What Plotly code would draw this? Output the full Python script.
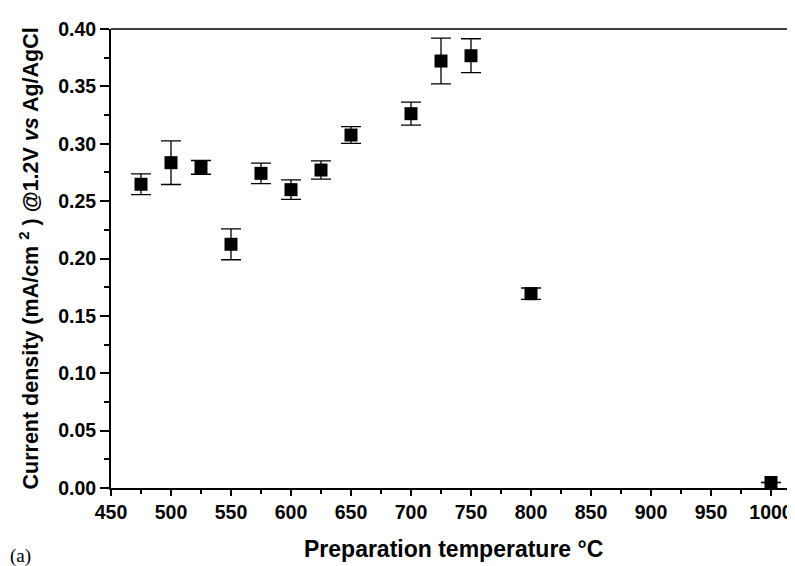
import plotly.graph_objects as go

temperature = [475, 500, 525, 550, 575, 600, 625, 650, 700, 725, 750, 800, 1000]
current_density = [0.2647, 0.2835, 0.2794, 0.2124, 0.2742, 0.2600, 0.2771, 0.3076,
                   0.3262, 0.3721, 0.3767, 0.1693, 0.0048]
error = [0.009, 0.019, 0.006, 0.0135, 0.009, 0.0085, 0.008, 0.0073,
         0.010, 0.020, 0.0148, 0.005, 0.0]

x_ticks = [450, 500, 550, 600, 650, 700, 750, 800, 850, 900, 950, 1000]
y_ticks = [0.00, 0.05, 0.10, 0.15, 0.20, 0.25, 0.30, 0.35, 0.40]

x_title = "Preparation temperature °C"
y_title = "Current density (mA/cm <sup>2</sup> ) @1.2V <i>vs</i> Ag/AgCl"
panel_label = "(a)"

fig = go.Figure()
fig.add_trace(go.Scatter(
    x=temperature, y=current_density, mode="markers",
    marker=dict(symbol="square", size=13, color="black", line=dict(width=0)),
    error_y=dict(type="data", array=error, visible=True, color="black",
                 thickness=1.3, width=10),
    cliponaxis=False, showlegend=False,
))

font_main = "Liberation Sans, Arial, Helvetica, sans-serif"

fig.update_layout(
    width=795, height=566,
    margin=dict(l=103, r=8, t=21, b=86, autoexpand=False),
    paper_bgcolor="white", plot_bgcolor="white",
    font=dict(family=font_main, color="black"),
    xaxis=dict(
        range=[450, 1020], tickvals=x_ticks, ticktext=[str(v) for v in x_ticks],
        automargin=False,
        showgrid=False, zeroline=False, showline=True, linecolor="black", linewidth=2,
        ticks="outside", ticklen=6, tickwidth=2, tickcolor="black",
        tickfont=dict(size=19.5, weight="bold", family=font_main),
        minor=dict(ticks="outside", ticklen=4, tickwidth=1.5, tickcolor="black", dtick=25, tick0=450),
    ),
    yaxis=dict(
        range=[0, 0.40], tickvals=y_ticks, ticktext=[f"{v:.2f}" for v in y_ticks],
        automargin=False,
        showgrid=False, zeroline=False, showline=True, linecolor="black", linewidth=2,
        ticks="outside", ticklen=9, tickwidth=2, tickcolor="black",
        tickfont=dict(size=19.5, weight="bold", family=font_main),
        minor=dict(ticks="outside", ticklen=5, tickwidth=1.5, tickcolor="black", dtick=0.025, tick0=0),
    ),
    shapes=[dict(type="line", xref="paper", yref="paper", x0=0, x1=1, y0=1, y1=1,
                 line=dict(color="black", width=1.3))],
    annotations=[
        dict(text=x_title, xref="paper", yref="paper", x=0.5, y=0, yshift=-61,
             xanchor="center", yanchor="middle", showarrow=False,
             font=dict(size=23, weight="bold", family=font_main, color="black")),
        dict(text=y_title, xref="paper", yref="paper", x=0, y=0.5, xshift=-83,
             xanchor="center", yanchor="middle", textangle=-90, showarrow=False,
             font=dict(size=21.5, weight="bold", family=font_main, color="black")),
        dict(text=panel_label, xref="paper", yref="paper", x=0, xshift=-103, y=0, yshift=-68,
             xanchor="left", yanchor="middle", showarrow=False,
             font=dict(family="Liberation Serif, Times New Roman, serif", size=19, color="black")),
    ],
)

fig.write_html("out.html")
